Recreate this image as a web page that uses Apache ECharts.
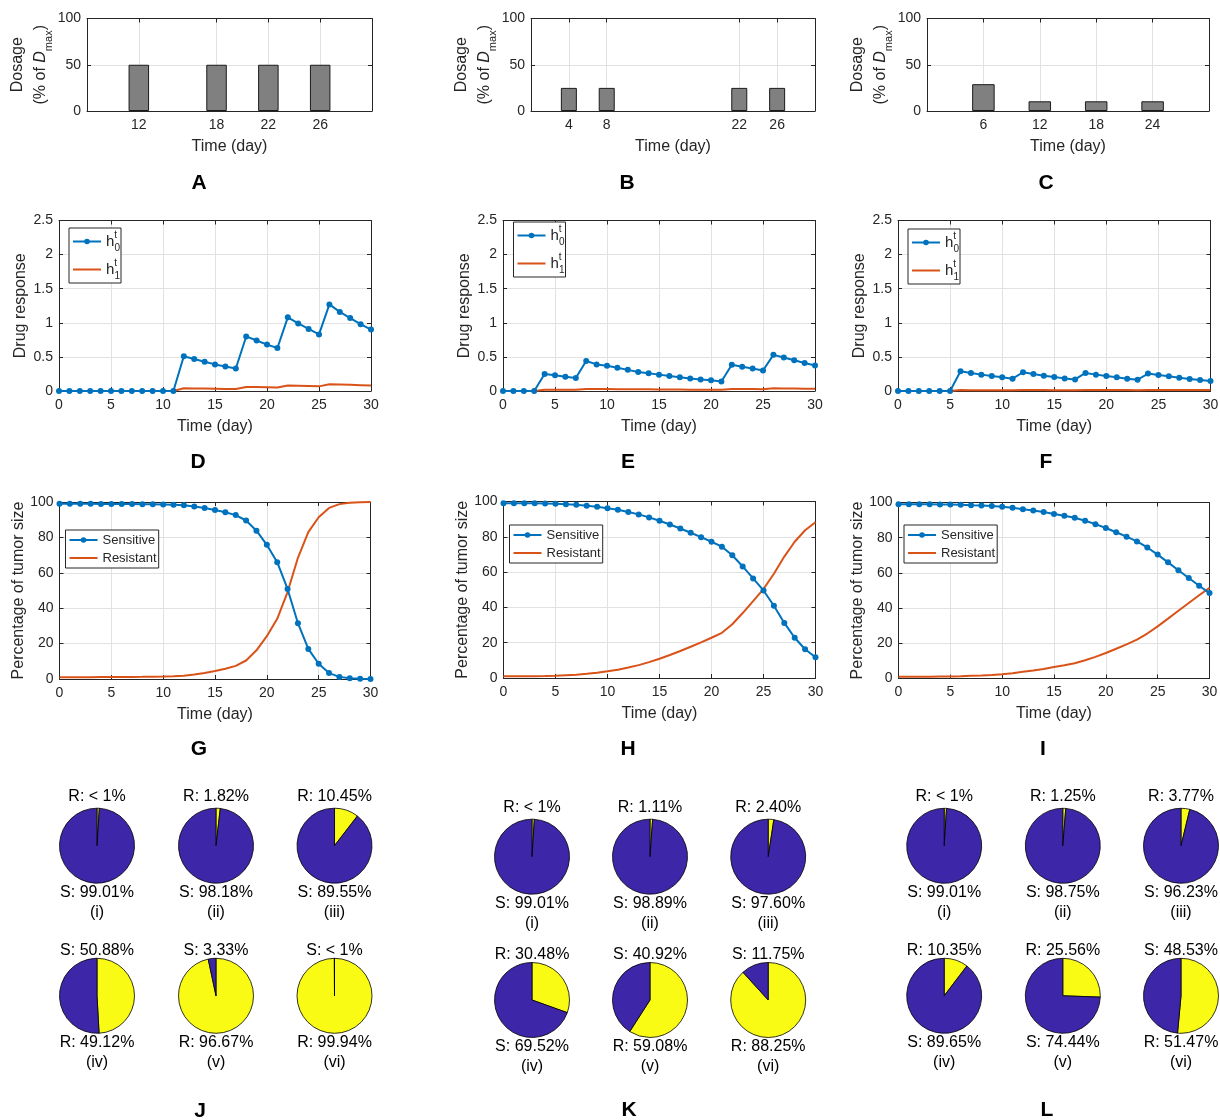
<!DOCTYPE html>
<html><head><meta charset="utf-8">
<script src="https://cdn.jsdelivr.net/npm/echarts@6/dist/echarts.min.js"></script>
<style>html,body{margin:0;padding:0;background:#fff}#c{width:1220px;height:1120px}</style>
</head><body><div id="c"></div>
<script>
// ================= DATA =================
const days = [0,1,2,3,4,5,6,7,8,9,10,11,12,13,14,15,16,17,18,19,20,21,22,23,24,25,26,27,28,29,30];

// Dosage schedules (% of Dmax)
const doseDaysA = [12, 18, 22, 26];
const doseA     = [50, 50, 50, 50];
const doseDaysB = [4, 8, 22, 26];
const doseB     = [25, 25, 25, 25];
const doseDaysC = [6, 12, 18, 24];
const doseC     = [29, 10.5, 10.5, 10.5];

// Drug response h0 (sensitive) and h1 (resistant)
const h0D = [0,0,0,0,0,0,0,0,0,0,0,0,0.51,0.47,0.43,0.39,0.36,0.33,0.80,0.74,0.68,0.63,1.08,0.99,0.91,0.83,1.27,1.16,1.07,0.98,0.90];
const h1D = [0,0,0,0,0,0,0,0,0,0,0,0,0.04,0.037,0.035,0.033,0.031,0.03,0.06,0.057,0.054,0.05,0.08,0.076,0.072,0.068,0.10,0.095,0.09,0.085,0.08];
const h0E = [0,0,0,0,0.25,0.23,0.21,0.19,0.44,0.39,0.37,0.34,0.31,0.28,0.26,0.24,0.22,0.20,0.185,0.17,0.156,0.14,0.385,0.356,0.33,0.30,0.53,0.49,0.45,0.41,0.375];
const h1E = [0,0,0,0,0.02,0.019,0.018,0.017,0.03,0.029,0.028,0.027,0.026,0.025,0.024,0.023,0.022,0.021,0.02,0.019,0.018,0.017,0.03,0.029,0.028,0.027,0.04,0.038,0.036,0.034,0.032];
const h0F = [0,0,0,0,0,0,0.29,0.265,0.24,0.22,0.20,0.18,0.275,0.25,0.225,0.205,0.185,0.17,0.265,0.24,0.22,0.20,0.18,0.165,0.255,0.235,0.215,0.195,0.176,0.16,0.147];
const h1F = [0,0,0,0,0,0,0.013,0.012,0.012,0.011,0.011,0.01,0.014,0.013,0.013,0.012,0.012,0.011,0.015,0.014,0.014,0.013,0.013,0.012,0.016,0.015,0.015,0.014,0.014,0.013,0.013];

// Percentage of tumor size
const sensG = [99.01,98.99,98.97,98.95,98.92,98.89,98.85,98.8,98.74,98.66,98.56,98.42,98.18,97.5,96.6,95.5,94.2,92.6,89.55,83.8,75.8,66.0,50.88,31.5,17.0,8.6,3.33,1.2,0.4,0.15,0.06];
const resG  = [0.99,1.01,1.03,1.05,1.08,1.11,1.15,1.2,1.26,1.34,1.44,1.58,1.82,2.5,3.4,4.5,5.8,7.4,10.45,16.2,24.2,34.0,49.12,68.5,83.0,91.4,96.67,98.8,99.6,99.85,99.94];
const sensH = [99.01,99.0,98.98,98.95,98.89,98.7,98.4,98.1,97.6,97.0,96.2,95.3,94.1,92.7,91.0,89.1,87.0,84.7,82.3,79.8,77.2,74.4,69.52,63.2,56.4,49.6,40.92,31.2,22.8,16.3,11.75];
const resH  = [0.99,1.0,1.02,1.05,1.11,1.3,1.6,1.9,2.4,3.0,3.8,4.7,5.9,7.3,9.0,10.9,13.0,15.3,17.7,20.2,22.8,25.6,30.48,36.8,43.6,50.4,59.08,68.8,77.2,83.7,88.25];
const sensI = [99.01,99.0,98.98,98.96,98.93,98.9,98.75,98.5,98.3,98.0,97.6,97.0,96.23,95.5,94.6,93.5,92.5,91.3,89.65,87.7,85.5,83.1,80.6,77.9,74.44,70.4,66.0,61.5,57.1,52.7,48.53];
const resI  = [0.99,1.0,1.02,1.04,1.07,1.1,1.25,1.5,1.7,2.0,2.4,3.0,3.77,4.5,5.4,6.5,7.5,8.7,10.35,12.3,14.5,16.9,19.4,22.1,25.56,29.6,34.0,38.5,42.9,47.3,51.47];

// Pie charts (percent)
const pieSJ = [99.01, 98.18, 89.55, 50.88, 3.33, 0.06];
const pieRJ = [0.99, 1.82, 10.45, 49.12, 96.67, 99.94];
const pieSK = [99.01, 98.89, 97.60, 69.52, 40.92, 11.75];
const pieRK = [0.99, 1.11, 2.40, 30.48, 59.08, 88.25];
const pieSL = [99.01, 98.75, 96.23, 89.65, 74.44, 48.53];
const pieRL = [0.99, 1.25, 3.77, 10.35, 25.56, 51.47];
const pieTopJ = ['R','R','R','S','S','S'];
const pieTopK = ['R','R','R','R','S','S'];
const pieTopL = ['R','R','R','R','R','S'];
const romans = ['(i)','(ii)','(iii)','(iv)','(v)','(vi)'];

const panelLetters = ['A','B','C','D','E','F','G','H','I','J','K','L'];

// ================= STYLE / LAYOUT =================
const FONT = '"Liberation Sans", Arial, Helvetica, sans-serif';
const TXT = '#262626';
const BLUE = '#0072bd';
const ORANGE = '#d95319';
const PIE_BLUE = '#3e26a8';
const PIE_YELLOW = '#f9fb15';
const GRIDC = '#e2e2e2';

const gridBoxes = [
  {left: 87,    top: 18.5,  width: 285,   height: 92.5},
  {left: 531,   top: 18.5,  width: 284,   height: 92.5},
  {left: 927,   top: 18.5,  width: 282,   height: 92.5},
  {left: 59,    top: 220.5, width: 312,   height: 170.5},
  {left: 503,   top: 220.5, width: 312,   height: 170.5},
  {left: 898,   top: 220.5, width: 312.5, height: 170.5},
  {left: 59.5,  top: 502,   width: 311,   height: 177},
  {left: 503.5, top: 501.5, width: 312,   height: 176.5},
  {left: 898.5, top: 502.5, width: 311,   height: 176}
];

const xCfg = [
  {min: 8, max: 30, custom: doseDaysA},
  {min: 0, max: 30, custom: doseDaysB},
  {min: 0, max: 30, custom: doseDaysC},
  {min: 0, max: 30, interval: 5}, {min: 0, max: 30, interval: 5}, {min: 0, max: 30, interval: 5},
  {min: 0, max: 30, interval: 5}, {min: 0, max: 30, interval: 5}, {min: 0, max: 30, interval: 5}
];
const yCfg = [
  {min: 0, max: 100, interval: 50, kind: 'dose'},
  {min: 0, max: 100, interval: 50, kind: 'dose'},
  {min: 0, max: 100, interval: 50, kind: 'dose'},
  {min: 0, max: 2.5, interval: 0.5, kind: 'drug'},
  {min: 0, max: 2.5, interval: 0.5, kind: 'drug'},
  {min: 0, max: 2.5, interval: 0.5, kind: 'drug'},
  {min: 0, max: 100, interval: 20, kind: 'tumor'},
  {min: 0, max: 100, interval: 20, kind: 'tumor'},
  {min: 0, max: 100, interval: 20, kind: 'tumor'}
];

const grids = gridBoxes.map(b => Object.assign({outerBoundsMode: 'none', containLabel: false, show: false}, b));
const xAxis = [], yAxis = [];

gridBoxes.forEach((b, gi) => {
  const xc = xCfg[gi], yc = yCfg[gi];
  const tick = {show: true, inside: true, length: 4, lineStyle: {color: TXT, width: 1}};
  if (xc.custom) tick.customValues = xc.custom;
  const xBase = {
    gridIndex: gi, type: 'value', min: xc.min, max: xc.max,
    axisLine: {show: true, onZero: false, lineStyle: {color: TXT, width: 1}},
    axisTick: tick
  };
  if (xc.interval) xBase.interval = xc.interval;
  const lab = {show: true, color: TXT, fontSize: 14, fontFamily: FONT, margin: 7};
  if (xc.custom) lab.customValues = xc.custom;
  xAxis.push(Object.assign({}, xBase, {
    position: 'bottom', axisLabel: lab,
    splitLine: {show: true, lineStyle: {color: GRIDC, width: 1}},
    name: 'Time (day)', nameLocation: 'middle', nameGap: 26.5, nameMoveOverlap: false,
    nameTextStyle: {color: TXT, fontSize: 16, fontFamily: FONT, lineHeight: 18}
  }));
  xAxis.push(Object.assign({}, xBase, {
    position: 'top', axisLabel: {show: false}, splitLine: {show: false}, name: ''
  }));

  const yBase = {
    gridIndex: gi, type: 'value', min: yc.min, max: yc.max, interval: yc.interval,
    axisLine: {show: true, onZero: false, lineStyle: {color: TXT, width: 1}},
    axisTick: {show: true, inside: true, length: 4, lineStyle: {color: TXT, width: 1}}
  };
  let name, gap, nts;
  if (yc.kind === 'dose') {
    name = '{a|Dosage}\n{n|(% of }{i|D}{s|max}{n|)}';
    gap = 33;
    nts = {color: TXT, fontFamily: FONT, fontSize: 16, rich: {
      a: {fontSize: 16, lineHeight: 20, fontFamily: FONT, color: TXT},
      n: {fontSize: 16, lineHeight: 26, fontFamily: FONT, color: TXT},
      i: {fontSize: 16, lineHeight: 26, fontStyle: 'italic', fontFamily: FONT, color: TXT},
      s: {fontSize: 11, verticalAlign: 'bottom', fontFamily: FONT, color: TXT}
    }};
  } else if (yc.kind === 'drug') {
    name = 'Drug response'; gap = 29.5;
    nts = {color: TXT, fontSize: 16, fontFamily: FONT, lineHeight: 18};
  } else {
    name = 'Percentage of tumor size'; gap = 31.5;
    nts = {color: TXT, fontSize: 16, fontFamily: FONT, lineHeight: 18};
  }
  yAxis.push(Object.assign({}, yBase, {
    position: 'left',
    axisLabel: {show: true, color: TXT, fontSize: 14, fontFamily: FONT, margin: 6},
    splitLine: {show: true, lineStyle: {color: GRIDC, width: 1}},
    name: name, nameLocation: 'middle', nameGap: gap, nameRotate: 90, nameMoveOverlap: false,
    nameTextStyle: nts
  }));
  yAxis.push(Object.assign({}, yBase, {
    position: 'right', axisLabel: {show: false}, splitLine: {show: false}, name: ''
  }));
});

const series = [];
function pairs(xs, ys) { return xs.map((x, i) => [x, ys[i]]); }

// Bars
const barSets = [[doseDaysA, doseA, 20.5], [doseDaysB, doseB, 16], [doseDaysC, doseC, 22.5]];
barSets.forEach((s, gi) => {
  series.push({
    type: 'bar', xAxisIndex: gi * 2, yAxisIndex: gi * 2, barWidth: s[2],
    data: pairs(s[0], s[1]), silent: true,
    itemStyle: {color: '#808080', borderColor: '#1a1a1a', borderWidth: 1}
  });
});

// Drug response lines
const drug = [[h0D, h1D], [h0E, h1E], [h0F, h1F]];
drug.forEach((d, k) => {
  const gi = 3 + k;
  series.push({
    name: 'h0', type: 'line', xAxisIndex: gi * 2, yAxisIndex: gi * 2, data: pairs(days, d[0]),
    symbol: 'circle', symbolSize: 6, showAllSymbol: true, z: 3,
    lineStyle: {color: BLUE, width: 2}, itemStyle: {color: BLUE}
  });
  series.push({
    name: 'h1', type: 'line', xAxisIndex: gi * 2, yAxisIndex: gi * 2, data: pairs(days, d[1]),
    symbol: 'none', z: 2, lineStyle: {color: ORANGE, width: 2}, itemStyle: {color: ORANGE}
  });
});

// Tumor size lines
const tum = [[sensG, resG], [sensH, resH], [sensI, resI]];
tum.forEach((d, k) => {
  const gi = 6 + k;
  series.push({
    name: 'Sensitive', type: 'line', xAxisIndex: gi * 2, yAxisIndex: gi * 2, data: pairs(days, d[0]),
    symbol: 'circle', symbolSize: 6, showAllSymbol: true, z: 3,
    lineStyle: {color: BLUE, width: 2}, itemStyle: {color: BLUE}
  });
  series.push({
    name: 'Resistant', type: 'line', xAxisIndex: gi * 2, yAxisIndex: gi * 2, data: pairs(days, d[1]),
    symbol: 'none', z: 2, lineStyle: {color: ORANGE, width: 2}, itemStyle: {color: ORANGE}
  });
});

// Legends
const hRich = {
  h: {fontSize: 15, lineHeight: 23, fontFamily: FONT, color: TXT},
  t: {fontSize: 10, verticalAlign: 'top', width: 0.1, align: 'left', fontFamily: FONT, color: TXT},
  s: {fontSize: 10, verticalAlign: 'bottom', fontFamily: FONT, color: TXT}
};
const noDot = {opacity: 0};
function hLegend(left, top) {
  return {
    show: true, left: left, top: top, orient: 'vertical',
    data: ['h0', {name: 'h1', itemStyle: noDot}],
    selectedMode: false, itemWidth: 28, itemHeight: 7, itemGap: 5, itemTextGap: 3,
    padding: [2, 1, 2, 3], borderColor: TXT, borderWidth: 1, backgroundColor: '#fff', borderRadius: 0,
    formatter: n => n === 'h0' ? '{h|h}{t|t}{s|0}' : '{h|h}{t|t}{s|1}',
    textStyle: {color: TXT, fontFamily: FONT, rich: hRich}
  };
}
function tLegend(left, top) {
  return {
    show: true, left: left, top: top, orient: 'vertical',
    data: ['Sensitive', {name: 'Resistant', itemStyle: noDot}],
    selectedMode: false, itemWidth: 28, itemHeight: 7, itemGap: 2, itemTextGap: 2,
    padding: [2, 2, 2, 3], borderColor: TXT, borderWidth: 1, backgroundColor: '#fff', borderRadius: 0,
    textStyle: {color: TXT, fontFamily: FONT, fontSize: 13, lineHeight: 16}
  };
}
const legend = [
  hLegend(69, 228), hLegend(513.5, 222), hLegend(908, 229),
  tLegend(65.5, 530), tLegend(509.5, 525), tLegend(904, 525)
];

// Pies
const pieGroups = [
  {S: pieSJ, R: pieRJ, top: pieTopJ, xs: [97, 216, 334.5], ys: [845.7, 995.8]},
  {S: pieSK, R: pieRK, top: pieTopK, xs: [532, 650, 768.2], ys: [856.7, 1000]},
  {S: pieSL, R: pieRL, top: pieTopL, xs: [944.2, 1062.8, 1181], ys: [845.8, 995.8]}
];
const graphic = [];
function fmt(v) { return v < 1 ? '< 1%' : v.toFixed(2) + '%'; }
function txt(x, y, t, font) {
  graphic.push({type: 'text', x: x, y: y, silent: true,
    style: {text: t, font: font || ('16px ' + FONT), fill: '#000', align: 'center', verticalAlign: 'middle',
            textAlign: 'center', textVerticalAlign: 'middle'}});
}
pieGroups.forEach(g => {
  for (let i = 0; i < 6; i++) {
    const cx = g.xs[i % 3], cy = g.ys[Math.floor(i / 3)];
    series.push({
      type: 'pie', center: [cx, cy], radius: 37.5, startAngle: 90, clockwise: true,
      silent: true, label: {show: false}, labelLine: {show: false}, emphasis: {disabled: true},
      itemStyle: {borderColor: '#000', borderWidth: 0.8},
      data: [
        {value: g.R[i], itemStyle: {color: PIE_YELLOW}},
        {value: g.S[i], itemStyle: {color: PIE_BLUE}}
      ]
    });
    const topKey = g.top[i];
    const topVal = topKey === 'R' ? g.R[i] : g.S[i];
    const botKey = topKey === 'R' ? 'S' : 'R';
    const botVal = topKey === 'R' ? g.S[i] : g.R[i];
    const row = Math.floor(i / 3);
    txt(cx, cy + (row === 0 ? -49 : -45.5), topKey + ': ' + fmt(topVal));
    txt(cx, cy + 47, botKey + ': ' + fmt(botVal));
    txt(cx, cy + 67, romans[i]);
  }
});

// Panel letters
const letterPos = [[199,183],[627,183],[1046,183],[198,462],[628,462],[1046,462],[199,749],[628,749],[1043,749],[200,1111],[629,1110],[1047,1110]];
panelLetters.forEach((L, i) => txt(letterPos[i][0], letterPos[i][1], L, 'bold 21px ' + FONT));

const chart = echarts.init(document.getElementById('c'), null, {renderer: 'canvas'});
chart.setOption({
  animation: false,
  backgroundColor: '#fff',
  textStyle: {fontFamily: FONT},
  grid: grids,
  xAxis: xAxis,
  yAxis: yAxis,
  legend: legend,
  series: series,
  graphic: graphic
});
</script>
</body></html>
